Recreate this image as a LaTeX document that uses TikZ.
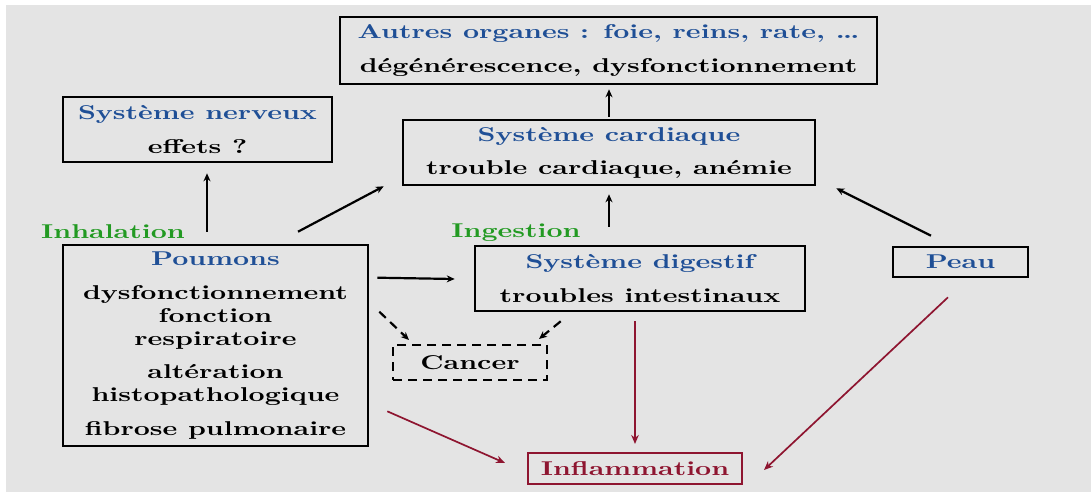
\documentclass[tikz,border=0pt]{standalone}
\usepackage{fontspec}
\setmainfont{lmroman10-bold.otf}[FakeStretch=1.4]
\usetikzlibrary{calc,arrows.meta}
\definecolor{bg}{HTML}{E4E4E4}
\definecolor{tblue}{HTML}{1F4F96}
\definecolor{tgreen}{HTML}{229A22}
\definecolor{tred}{HTML}{8E1530}
\tikzset{
  box/.style={draw=black, line width=2.6pt, align=center, inner sep=0pt,
    font=\fontsize{20}{23.2}\selectfont},
  lbl/.style={inner sep=0pt, text=tgreen, font=\fontsize{20}{23.2}\selectfont},
  arr/.style={line width=2.2pt, -{Stealth[length=8pt,width=7pt]}},
  darr/.style={arr, dashed, dash pattern=on 9pt off 6pt},
  rarr/.style={line width=1.7pt, draw=tred, -{Stealth[length=9pt,width=7.5pt]}},
}
\begin{document}
\begin{tikzpicture}[x=1pt,y=-1pt]
\fill[white] (0,0) rectangle (1091,492);
\fill[bg] (6,5) rectangle (1091,492);
\useasboundingbox (0,0) rectangle (1091,492);

\node[box, minimum width=537pt, minimum height=67pt] (autres) at (608.5,50.5)
  {\textcolor{tblue}{Autres organes : foie, reins, rate, \dots}\\[10pt]
   dégénérescence, dysfonctionnement};
\node[box, minimum width=269pt, minimum height=65pt] (nerveux) at (197.5,129.5)
  {\textcolor{tblue}{Système nerveux}\\[10pt] effets ?};
\node[box, minimum width=412pt, minimum height=65pt] (cardiaque) at (609,152.5)
  {\textcolor{tblue}{Système cardiaque}\\[10pt] trouble cardiaque, anémie};
\node[box, minimum width=305pt, minimum height=201pt] (poumons) at (215.5,345.5)
  {\textcolor{tblue}{Poumons}\\[10pt]
   dysfonctionnement\\ fonction\\ respiratoire\\[10pt]
   altération\\ histopathologique\\[10pt]
   fibrose pulmonaire};
\node[box, minimum width=330pt, minimum height=65pt] (digestif) at (640,278.5)
  {\textcolor{tblue}{Système digestif}\\[10pt] troubles intestinaux};
\node[box, minimum width=135pt, minimum height=30pt] (peau) at (960.5,262)
  {\textcolor{tblue}{Peau}};
\node[box, dashed, dash pattern=on 9pt off 6pt, line width=2pt,
  minimum width=154pt, minimum height=35pt] (cancer) at (470,362.5) {Cancer};
\node[box, draw=tred, text=tred, line width=2pt,
  minimum width=214pt, minimum height=31pt] (inflam) at (635,468.5) {Inflammation};

\node[lbl] (inhal) at (113,232) {Inhalation};
\node[lbl] (inges) at (516,233) {Ingestion};

\draw[arr] ($(poumons.north)+(-8.5,-12)$) -- ($(nerveux.south)+(9.5,10)$);
\draw[arr] ($(poumons.north)+(82.5,-12)$) -- ($(cardiaque.south west)+(-18,0)$);
\draw[arr] ($(cardiaque.north)+(0,-2)$) -- ($(autres.south)+(0.5,4)$);
\draw[arr] ($(digestif.north)+(-31,-18)$) -- ($(cardiaque.south)+(0,8)$);
\draw[arr] ($(peau.north)+(-29.5,-10)$) -- ($(cardiaque.south east)+(20,2)$);
\draw[arr] ($(poumons.north east)+(8,34)$) -- ($(digestif.west)+(-19,0.5)$);
\draw[darr] ($(poumons.north east)+(10,68)$) -- ($(cancer.north west)+(17,-4)$);
\draw[darr] ($(digestif.south west)+(87,9)$) -- ($(cancer.north east)+(-9,-5)$);
\draw[rarr] ($(poumons.south east)+(18,-36)$) -- ($(inflam.west)+(-22,-5.5)$);
\draw[rarr] ($(digestif.south)+(-5,9)$) -- ($(inflam.north)+(0,-8)$);
\draw[rarr] ($(peau.south)+(-12.5,19)$) -- ($(inflam.east)+(21,1.5)$);
\end{tikzpicture}
\end{document}
